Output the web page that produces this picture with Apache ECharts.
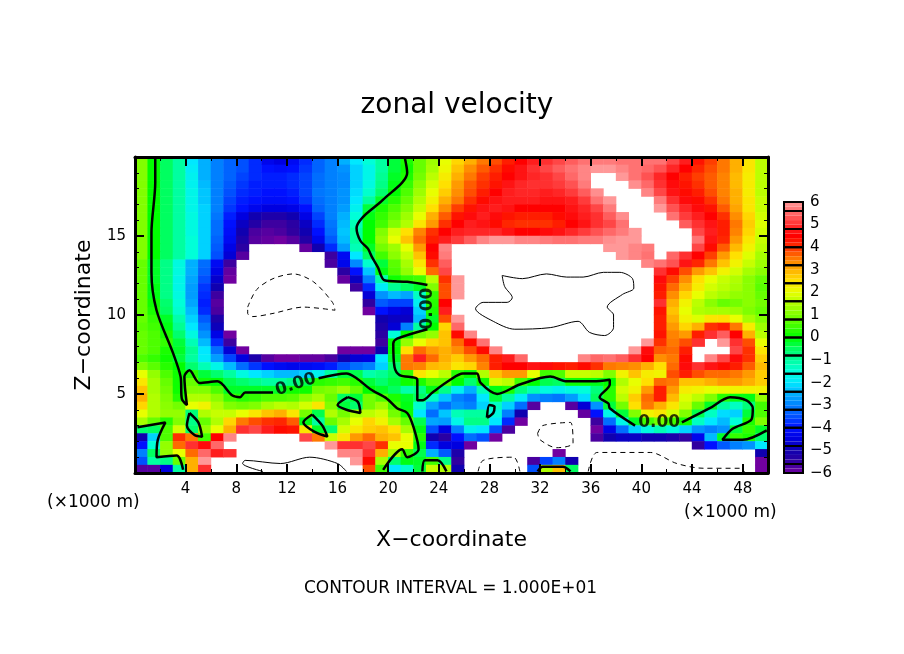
<!DOCTYPE html>
<html>
<head>
<meta charset="utf-8">
<style>html,body{margin:0;background:#fff}#chart{width:904px;height:654px}</style>
<script src="https://cdn.jsdelivr.net/npm/echarts@6/dist/echarts.min.js"></script>
</head>
<body>
<div id="chart"></div>
<script>
// zonal velocity, one row per 0.5 km from the top, one column per 1 km
// 7 and -7 are the white parts beyond the colour scale
var uRows = [
[1,0,-.5,-1,-2,-2.5,-3,-3.3,-3.5,-3.8, -4.3,-4.5,-4.2,-3.8,-3.3,-3,-2.5,-2,-1.5,-1, -.3,.2,.8,1.3,2,2.6,3,3.5,3.8,4.2, 4.5,4.8,5,5.2,5.4,5.6,5.7,5.7,5.6,5.6, 5.6,5.6,5.2,4.8,4.3,3.9,3.5,3,2.4,1.6],
[1,0,-.5,-1,-1.9,-2.5,-3,-3.3,-3.5,-3.8, -4,-4.1,-4,-3.7,-3.3,-3,-2.8,-2.2,-1.7,-1, -.3,.1,.8,1.4,2.1,2.8,3.3,3.7,4,4.4, 4.7,5,5.2,5.4,5.6,5.8,6,6,5.8,5.6, 5.5,5.3,4.9,4.5,4.1,3.8,3.5,3,2.4,1.6],
[1,0,-.5,-1,-1.8,-2.5,-3,-3.3,-3.6,-3.8, -3.9,-3.9,-3.8,-3.6,-3.2,-3,-2.9,-2.2,-1.7,-.9, -.2,.2,.9,1.6,2.3,3,3.5,3.9,4.2,4.5, 4.7,4.9,5,5.2,5.5,5.8,7,7,6,5.6, 5.3,4.9,4.5,4.2,3.9,3.7,3.4,2.9,2.3,1.6],
[1,0,-.5,-1,-1.8,-2.4,-3,-3.4,-3.7,-3.9, -3.9,-3.9,-3.8,-3.6,-3.2,-3,-2.9,-2.2,-1.6,-.8, -.1,.4,1.1,1.8,2.5,3.2,3.7,4,4.3,4.7, 4.9,5,5,5.1,5.3,5.7,7,7,7,5.9, 5.5,5,4.6,4.3,4,3.7,3.4,2.9,2.3,1.6],
[1,0,-.5,-1,-1.7,-2.3,-3,-3.5,-3.8,-3.9, -4,-4,-3.9,-3.6,-3.1,-3,-2.8,-2.1,-1.4,-.6, 0,.6,1.3,2,2.7,3.3,3.8,4.2,4.5,4.8, 4.9,4.9,4.8,4.9,5.1,5.4,5.9,7,7,7, 5.8,5.2,4.7,4.4,4.2,3.8,3.4,3,2.3,1.6],
[1,0,-.5,-1,-1.7,-2.3,-3,-3.6,-3.9,-4, -4.1,-4.1,-4,-3.7,-3.2,-3,-2.8,-2,-1,-.2, .3,.8,1.5,2.2,3,3.5,4,4.4,4.7,4.8, 4.8,4.8,4.7,4.7,4.8,5.1,5.6,6,7,7, 7,5.7,5,4.6,4.4,4,3.5,3,2.4,1.7],
[1,0,-.5,-1,-1.7,-2.2,-3,-3.7,-4,-4.3, -4.5,-4.5,-4.4,-4,-3.3,-3,-2.7,-1.8,-.3,.2, .6,1,1.7,2.5,3.3,3.9,4.3,4.7,4.8,4.7, 4.5,4.5,4.5,4.5,4.7,4.9,5.2,5.7,7,7, 7,6,5.3,4.9,4.6,4.3,3.7,3.1,2.4,1.7],
[1,0,-.5,-1,-1.6,-2.2,-3.1,-3.9,-4.5,-5, -5.2,-5.2,-5,-4.4,-3.6,-3,-2.5,-1.5,-.1,.4, .8,1.3,2,3,3.7,4.3,4.6,4.8,4.6,4.3, 4.2,4.2,4.2,4.4,4.6,4.8,5,5.4,5.9,7, 7,7,5.6,5.1,4.8,4.5,4,3.3,2.6,1.8],
[1,0,-.5,-1,-1.6,-2.2,-3.2,-4,-4.8,-5.3, -5.6,-5.6,-5.4,-4.8,-3.8,-3.1,-2.4,-1.2,0,.5, 1,1.5,2.4,3.2,4,4.5,4.8,4.7,4.4,4.1, 4,4,4,4.2,4.5,4.7,5,5.2,5.6,7, 7,7,7,5.4,5,4.7,4.2,3.5,2.7,1.9],
[1,0,-.5,-1,-1.6,-2.2,-3.2,-4.1,-5,-5.7, -5.8,-5.7,-5.5,-5,-4,-3.2,-2.3,-1,0,1, 1.8,2.5,3.4,4,4.5,4.8,4.9,4.9,4.9,4.7, 4.5,4.5,4.6,4.7,4.9,5.1,5.3,5.5,5.7,6, 7,7,7,7,5.2,4.8,4.2,3.4,2.6,1.8],
[1,0,-.5,-1,-1.5,-2.2,-3.3,-4.2,-5.2,-5.8, -5.9,-6,-5.8,-5.3,-4.3,-3.4,-2.4,-1,0,1.2, 2,2.8,3.6,4.2,4.8,5.1,5.4,5.8,6,6, 5.8,5.8,5.7,5.6,5.6,5.7,5.7,5.9,6,6, 7,7,7,7,5.6,4.7,4.1,3.2,2.4,1.7],
[1,0,-.5,-1,-1.5,-2.2,-3.4,-4.4,-5.4,-7, -7,-7,-7,-5.9,-5,-3.8,-2.7,-1.2,-.2,.9, 1.3,2,3.2,4.5,5.8,7,7,7,7,7, 7,7,7,7,7,7,7,6,6,5.8, 5.7,7,7,7,5.2,4.4,3.7,2.9,2.2,1.6],
[1,0,-.5,-1,-1.5,-2.2,-3.5,-4.6,-5.8,-7, -7,-7,-7,-7,-7,-5.6,-4.2,-2,-.5,.5, 1.1,1.7,2.8,4.4,5.7,7,7,7,7,7, 7,7,7,7,7,7,7,7,6,5.8, 5.6,7,5.5,5,4.5,3.9,3.2,2.5,1.9,1.4],
[.8,-.2,-.8,-1.6,-2.5,-3.2,-4.2,-5.6,-7,-7, -7,-7,-7,-7,-7,-5.7,-4.3,-2.9,-1.4,-.3, .7,1.4,2.4,4,5.4,7,7,7,7,7, 7,7,7,7,7,7,7,7,7,7, 5.8,5.6,5.3,4.7,4.1,3.5,2.8,2.2,1.7,1.3],
[.8,-.2,-.8,-1.6,-2.5,-3.3,-4.4,-5.9,-7,-7, -7,-7,-7,-7,-7,-7,-5.4,-4,-2.3,-.1, .6,1.2,2,3.6,5.2,7,7,7,7,7, 7,7,7,7,7,7,7,7,7,7, 7,5,4.4,3.8,3.2,2.8,2.2,1.8,1.4,1.1],
[.8,-.2,-.8,-1.7,-2.6,-3.5,-4.7,-6,-7,-7, -7,-7,-7,-7,-7,-7,-5.9,-4.8,-3,-1.1, .1,.4,.5,1.6,4,6,7,7,7,7, 7,7,7,7,7,7,7,7,7,7, 7,4.6,3.9,3.3,2.5,2,1.7,1.5,1.1,.8],
[.8,-.1,-.8,-1.7,-2.7,-3.7,-5,-7,-7,-7, -7,-7,-7,-7,-7,-7,-7,-5.6,-3.8,-1.9, -.9,-.5,-.2,1,3.8,6,7,7,7,7, 7,7,7,7,7,7,7,7,7,7, 7,4.3,3.6,3,2.3,1.8,1.6,1.4,1.1,.7],
[.8,-.1,-.8,-1.6,-2.7,-3.8,-5.6,-7,-7,-7, -7,-7,-7,-7,-7,-7,-7,-7,-4.6,-2.8, -2.4,-2.6,-1.3,.4,3.8,6,7,7,7,7, 7,7,7,7,7,7,7,7,7,7, 7,4.2,3.3,2.6,2,1.6,1.4,1.2,1.1,.8],
[.8,.1,-.6,-1.5,-2.6,-3.9,-5.8,-7,-7,-7, -7,-7,-7,-7,-7,-7,-7,-7,-5.5,-3.4, -3.6,-3.6,-1.8,.3,4.5,7,7,7,7,7, 7,7,7,7,7,7,7,7,7,7, 7,5,3,2.2,1.6,1.1,.8,.9,1.1,.9],
[.8,.2,-.5,-1.4,-2.4,-3.8,-5.7,-7,-7,-7, -7,-7,-7,-7,-7,-7,-7,-7,-6,-4, -4.4,-4.6,-2.2,.2,4.8,7,7,7,7,7, 7,7,7,7,7,7,7,7,7,7, 7,4.3,2.8,2,1.5,1.4,1.4,1.3,1,.8],
[.8,.4,-.2,-1.1,-2.2,-3.4,-5.2,-7,-7,-7, -7,-7,-7,-7,-7,-7,-7,-7,-7,-5, -4.8,-4.8,-2.4,-.2,3.8,6,7,7,7,7, 7,7,7,7,7,7,7,7,7,7, 7,4.2,3,2.2,1.9,2.4,2.5,2,1.4,1],
[.7,.5,-.1,-.9,-2,-3.1,-4.9,-7,-7,-7, -7,-7,-7,-7,-7,-7,-7,-7,-7,-5.2, -4.6,-3,-1,0,2.6,5.5,7,7,7,7, 7,7,7,7,7,7,7,7,7,7, 7,4.2,3.2,2.6,3,4,4.2,3.5,2.3,1.3],
[.8,.6,.2,-.6,-1.6,-2.8,-4.4,-6,-7,-7, -7,-7,-7,-7,-7,-7,-7,-7,-7,-5.4, -1.5,0,.9,1.2,2.8,4.4,5.8,7,7,7, 7,7,7,7,7,7,7,7,7,7, 7,4.3,3.4,3.2,4.2,5,5.4,4.5,3,1.6],
[.8,.6,.4,-.3,-1.2,-2.4,-3.8,-5.6,-7,-7, -7,-7,-7,-7,-7,-7,-7,-7,-7,-5.6, 0,1.2,2,2.6,2.8,3.6,4.4,5.6,7,7, 7,7,7,7,7,7,7,7,7,7, 6,4,3.5,3.8,5,7,6,5,3.8,2],
[.8,.6,.2,-.2,-.9,-2,-3.2,-4.6,-6,-7, -7,-7,-7,-7,-7,-7,-6,-6,-6,-5, 0,2.5,3.6,3.2,3,3.3,3.8,4.4,5.8,7, 7,7,7,7,7,7,7,7,7,6, 4.6,3.7,3.6,4.2,7,7,7,5.2,4,2.4],
[.6,.4,.1,-.3,-1,-1.9,-2.7,-3.6,-4.5,-5.2, -5.8,-6,-6,-5.9,-5.9,-5.7,-5,-4.6,-4.5,-2, -.2,3.5,4.8,3.6,3,2.7,3.2,3.6,4.2,4.8, 5.5,7,7,7,7,5.8,5.5,5.6,5.4,5, 4.5,3.3,3.5,4.4,7,5.8,5.2,4.6,4,2.7],
[1,.7,.3,0,-.6,-1.2,-1.7,-2.4,-3.2,-3.7, -4,-4.2,-4.3,-4.2,-4.1,-3.9,-3.5,-3.2,-3,-2.2, -.6,3.5,3.4,2.9,2.8,2.4,2.6,3.4,4.2,4.5, 4.5,4.7,4.6,4.3,4.2,4.4,4,3.5,3.4,3.3, 3,2.5,3.6,4.6,5,4.7,4.4,4.2,3.7,2.9],
[2,1.2,.6,.1,.3,-.3,-.6,-1,-1.6,-2, -2.2,-2.4,-2.4,-2.2,-1.8,-1,-.3,-.4,-1.1,-.9, -.5,.4,2.4,2,1.6,.3,0,1.5,2.8,3.2, 3.2,2,.5,.6,1.7,1.7,1.6,1,2.2,2.8, 2.3,2.2,3.8,4.2,3.8,3.6,3.6,3.5,3.2,2.7],
[2.4,1.4,.8,.1,.8,.1,0,-.4,-.6,-.8, -1,-1,-.8,-.4,.3,.4,.5,.3,-.3,-.6, -.3,.1,.2,.7,.7,0,-.6,.1,1.8,1.6, .5,0,-.4,-.5,.1,.1,-.1,0,1.5,2, 2.5,3.6,3.5,2.8,2.8,3,3.2,3.2,3,2.7],
[2.8,1.4,.9,.1,1,1,.6,-.2,-.2,-.2, -.2,-.2,.1,.1,.9,1,1.3,.8,0,-.2, -.5,-1.1,-.8,-.1,-.8,-1.8,-2.5,-1.2,-.1,.2, -.7,-1.2,-1.6,-1.8,-1.6,-1.5,-.7,.3,1.8,2.2, 3.2,4.2,3.2,2.3,2.2,2,2.1,2.2,2.2,2.2],
[3,1.5,1,.3,1.5,1.5,1.1,.5,.3,.4, .6,.6,.7,1.1,1.4,.8,-.5,-.3,.9,.6, .2,-.2,-.5,-1.3,-2.3,-3,-3.2,-2,-.3,-1, -1.9,-2.8,-3,-3.1,-2.7,-2.1,-.5,.3,1.6,2.7, 3.6,4.2,2.9,1.9,1.6,1,.3,-.1,-.1,1.2],
[2.6,1.5,1.1,.9,2,2.2,1.5,1,.9,1, 1.4,1.6,1.5,1.8,2.4,1,-.3,-.6,.9,1.3, .5,-.1,-1.4,-2.6,-3.2,-2.8,-3,-2.2,-1.3,-2.2, -3.2,-5.8,-7,-7,-5.8,-4.6,-2.8,-.3,.9,2.5, 3.5,3,2.4,1.7,.8,-.2,-1,-1.3,-.7,.5],
[2,1.5,1.2,1.2,-.7,1.5,1.7,1.7,2,2.4, 2.8,3,2.4,.9,-.4,1.5,.9,1.5,1.6,1.8, .9,.1,-2,-3.2,-2.3,-1.2,-1,-1,-1.6,-3, -5,-7,-7,-7,-7,-5.9,-4,-1.7,-.3,1, 2.2,2.4,1.8,1,-.4,-1.3,-2.1,-2.2,-.3,.6],
[1.4,.8,.3,1,-.8,.8,1.5,2.6,3.5,3.8, 4,4.1,3.7,-.1,-1,.8,1.4,2,2.6,2.2, 1.4,.8,-.4,-2.6,-2.7,-1.7,-.8,-.8,-2,-3.8, -6,-7,-7,-7,-7,-7,-5.6,-3.2,-1.7,-.2, .5,.9,.5,.1,-1.3,-2,-2.4,-1.5,.2,1],
[-.6,-.5,.6,1.8,-.6,1.2,2,3,5,5.2, 4.8,4.4,4.3,2.4,-.2,-.6,1.8,2.4,2.7,2.8, 2.5,1.4,-.1,-3.5,-4.5,-3,-1.8,-2,-3.5,-5.7, -7,-7,-7,-7,-7,-7,-6,-4.4,-3.2,-2.2, -1.6,-1.2,-1.6,-2.2,-2.8,-3,-2.8,-.3,.4,-.2],
[-5,-2.2,.6,4,3.5,.5,4.5,5.8,7,7, 7,7,7,5.2,3.5,1.7,2.4,3.2,3.6,3, 2.8,2,.3,-5,-5.4,-4,-3.2,-3.5,-6,-7, -7,-7,-7,-7,-7,-7,-5.7,-5,-4.8,-4.8, -5,-5,-5.2,-5.5,-4.3,-2.4,-.2,.4,.2,-.6],
[-4,-1.5,1.2,3.6,5,4.6,5.5,7,7,7, 7,7,7,7,7,6,5,5,5.2,4, 2,2,-.1,-3.8,-4.5,-4.5,-6,-7,-7,-7, -7,-7,-7,-7,-7,-7,-7,-7,-7,-7, -7,-7,-7,-7,-5.5,-4,-3.4,-3,-2.8,-2],
[-3,-.5,1.2,2,3.6,5.5,4.8,5,7,7, 7,7,7,7,7,7,5.8,5.8,5,3, 1.4,.4,-.4,-2.5,-3.4,-5.2,-7,-7,-7,-7, -7,-7,-7,-6,-7,-7,-7,-7,-7,-7, -7,-7,-7,-7,-7,-7,-7,-7,-7,-5],
[-3.5,-1,-.8,.8,3,6,7,7,7,7, 7,7,7,7,7,7,7,6,4.4,1.4, -.6,-.1,-.2,.5,-.8,-5.5,-7,-7,-7,-7, -7,-5.7,-3.6,-3,-5,-7,-7,-7,-7,-7, -7,-7,-7,-7,-7,-7,-7,-7,-7,-6],
[-5.8,-5.8,-4.5,-1,3,5,7,7,7,7, 7,7,7,7,7,7,7,7,3.8,.5, -2,-1.4,-.3,1.7,1.5,-5,-7,-7,-7,-7, -7,-3.5,1.5,2.8,-.5,-7,-7,-7,-7,-7, -7,-7,-7,-7,-7,-7,-7,-7,-7,-6]
];

// colour at -6, -5.5, ... 6
var levelColors = ['#7000a0','#3000a0','#1000b0','#0000e0','#0010ff','#0050ff','#0080ff','#00b0ff','#00e8ff',
    '#00ffd8','#00ffa0','#00ff60','#00ff00','#40ff00','#80ff00','#b0ff00','#e8ff00','#ffe000','#ffb000',
    '#ff7800','#ff3000','#ff0000','#ff3030','#ff6868','#ff9898'];

// colour bar
var barBoxes = [6,5.6,4.8,4,3.2,2.4,1.6,.8,0,-.8,-1.6,-2.4,-3.2,-4,-4.8,-5.6,-6];
var barShades = [6,5.8,5.6,5.4,5.2,5,4.8,4.6,4.4,4.2,4,3.8,3.6,3.4,3.2,3,2.8,2.6,2.4,2.2,2,1.8,1.6,1.4,1.2,1,.8,.6,.4,.2,0,
    -.2,-.4,-.6,-.8,-1,-1.2,-1.4,-1.6,-1.8,-2,-2.2,-2.4,-2.6,-2.8,-3,-3.2,-3.4,-3.6,-3.8,-4,-4.2,-4.4,-4.6,-4.8,-5,-5.2,-5.4,-5.6,-5.8,-6];

// tick labels
var xTicks = [4,8,12,16,20,24,28,32,36,40,44,48];
var zTicks = [5,10,15];

// contours in km, zero level (thick)
var zeroLines = [
    [[1.6,20],[1.6,18.4],[1.3,15.2],[1.3,12.7],[1.7,10.3],[3,7.6],[3.6,6.1],[3.7,4.7],[4.1,4.3],[3.9,6.1],[4.3,6.5],[5.1,5.7],[6.5,5.8],[7.7,4.9],[8.3,4.8],[8.7,5.1],[10.9,5.1]],
    [[14.5,6],[16.7,6.3],[17.5,6],[18.6,5.3],[19.9,4.7],[20.7,4.1],[21.5,3.8],[22,2.9],[22.4,1.5],[21.5,1],[21.1,1.5],[19.6,.2]],
    [[21.3,20],[21.5,19],[19.6,17.3],[18,16.2],[17.5,15.5],[17.8,14.7],[18.4,14.2],[18.7,13.7],[19.2,13],[19.7,12.2],[21.5,12.1],[23.1,11.9]],
    [[23.1,9.1],[20.7,8.5],[20.4,8.2],[20.5,6.7],[20.9,6.2],[22.3,5.9],[22.3,4.6],[22.7,4.6],[23.5,5.1],[24.9,5.9],[25.9,6.3],[27,6.3],[27.3,5.7],[28.6,5],[30.4,5.6],[32.8,6.1],[34.1,5.8],[36.2,5.8],[37.5,5.9],[37.5,5.6],[36.7,4.8],[37.4,4.4],[37.5,4.1],[39.5,3]],
    [[43.2,3.2],[45.4,4.1],[47,4.8],[48.3,4.6],[48.8,4.1],[48.7,3.4],[47.2,2.8],[46.4,2.1],[48,2.1],[49.9,2.7]],
    [[4.3,3.8],[5,3.2],[5.3,2.3],[4.7,2.4],[4.1,3],[4.3,3.8]],
    [[14,3.7],[14.8,3],[15.2,2.3],[14.2,2.6],[13.3,3.2],[14,3.7]],
    [[16.8,4.8],[17.6,4.5],[17.8,3.8],[16.7,4],[16,4.3],[16.8,4.8]],
    [[.2,2.9],[2.4,3.2],[1.8,2.1],[1.7,1],[3.3,1.1],[3.8,.2]],
    [[22.7,.1],[22.9,.8],[23.9,.8],[24.6,.1]],
    [[27.8,3.5],[28,4.3],[28.4,4.2],[28.3,3.8],[27.8,3.5]],
    [[31.8,.1],[32.2,.4],[33.8,.4],[34.4,.1]]
];
// thin solid, +10 level
var plusLines = [
    [[29,12.5],[29.2,11.8],[29.8,11.1],[29.4,10.8],[27.5,10.8],[26.9,10.4],[28.3,9.6],[30,9.1],[32.8,9.2],[35,9.6],[35.9,8.9],[37.1,8.7],[37.8,9.2],[37.8,10],[37.3,10.5],[38.5,11.3],[39.4,11.7],[39.3,12.3],[38.3,12.7],[37,12.7],[35.4,12.4],[34.1,12.4],[32.5,12.6],[30.6,12.3],[29,12.5]],
    [[10.1,.1],[8.5,.6],[8.7,.8],[11.5,.6],[13.8,1],[16,.6],[16.7,.1]]
];
// thin dashed, -10 level
var minusLines = [
    [[8.9,10.5],[9.6,11.6],[10.9,12.3],[12.5,12.6],[14.1,12.1],[15.6,10.8],[15.8,10.3],[13.3,10.5],[10.9,10.1],[9.3,9.9],[8.9,10.1],[8.9,10.5]],
    [[31.8,2.5],[32.2,3],[34.4,3.2],[34.6,1.9],[33.3,1.6],[32,2.1],[31.8,2.5]],
    [[27.1,.1],[27.5,.8],[29.9,1],[30.4,.1]],
    [[35.8,.1],[36.5,1.3],[40.7,1.3],[42.8,.6],[44.9,.3],[47.8,.3],[48.2,0]]
];
// contour labels: x, z, text, rotation
var contourLabels = [[12.7,5.6,'0.00',18],[23.1,10.4,'0.00',90],[41.4,3.2,'0.00',0]];

var FONT = 'DejaVu Sans';
var myChart = echarts.init(document.getElementById('chart'));

// cells beyond the scale stay unpainted, so the page white shows through
var heatData = [];
uRows.forEach(function (row, r) {
    row.forEach(function (v, c) {
        if (Math.abs(v) <= 6) heatData.push([c, r, v]);
    });
});

var shadeData = [];
for (var i = 0; i < barShades.length - 1; i++) {
    shadeData.push([barShades[i + 1], barShades[i], (barShades[i] + barShades[i + 1]) / 2]);
}
var boxData = [];
for (var j = 0; j < barBoxes.length - 1; j++) {
    boxData.push([barBoxes[j + 1], barBoxes[j], 0]);
}

function barRect(api) {
    var a = api.coord([0, api.value(0)]);
    var b = api.coord([1, api.value(1)]);
    return { x: a[0], y: b[1], width: b[0] - a[0], height: a[1] - b[1] };
}

function lineSeries(points, width, dashed) {
    return {
        type: 'line', xAxisIndex: 1, yAxisIndex: 1, data: points, symbol: 'none', smooth: 0.3,
        silent: true, z: 5,
        lineStyle: { color: '#000', width: width, type: dashed ? [5, 4] : 'solid' }
    };
}

var series = [
    {
        type: 'heatmap', xAxisIndex: 0, yAxisIndex: 0, data: heatData, silent: true, progressive: 0,
        emphasis: { disabled: true }, z: 2
    },
    {
        type: 'custom', xAxisIndex: 3, yAxisIndex: 3, data: shadeData, silent: true, z: 2,
        renderItem: function (params, api) {
            return { type: 'rect', shape: barRect(api), style: { fill: api.visual('color') } };
        }
    },
    {
        type: 'custom', xAxisIndex: 3, yAxisIndex: 3, data: boxData, silent: true, z: 3,
        renderItem: function (params, api) {
            return { type: 'rect', shape: barRect(api), style: { fill: 'none', stroke: '#000', lineWidth: 2 } };
        }
    },
    {
        type: 'scatter', xAxisIndex: 1, yAxisIndex: 1, symbolSize: 0, silent: true, z: 6,
        data: contourLabels.map(function (d) {
            return {
                value: [d[0], d[1]],
                label: {
                    show: true, position: 'inside', formatter: d[2], rotate: d[3],
                    color: '#000', fontFamily: FONT, fontSize: 17, fontWeight: 'bold'
                }
            };
        })
    }
];
zeroLines.forEach(function (p) { series.push(lineSeries(p, 2.5, false)); });
plusLines.forEach(function (p) { series.push(lineSeries(p, 1, false)); });
minusLines.forEach(function (p) { series.push(lineSeries(p, 1, true)); });

var tickLabel = { color: '#000', fontFamily: FONT, fontSize: 15 };
var frameLine = { show: true, onZero: false, lineStyle: { color: '#000', width: 3 } };

var option = {
    animation: false,
    backgroundColor: '#fff',
    title: {
        text: 'zonal velocity', left: 452, top: 87, textAlign: 'center',
        textStyle: { color: '#000', fontFamily: FONT, fontWeight: 'normal', fontSize: 28 }
    },
    grid: [
        { left: 135, top: 157, width: 633, height: 316 },
        { left: 135, top: 157, width: 633, height: 316 },
        { left: 135, top: 157, width: 633, height: 316 },
        { left: 784, top: 202, width: 19, height: 271 }
    ],
    visualMap: {
        show: false, type: 'continuous', min: -6, max: 6, dimension: 2, seriesIndex: [0, 1],
        inRange: { color: levelColors }
    },
    xAxis: [
        { type: 'category', gridIndex: 0, show: false, data: uRows[0].map(function (v, c) { return c; }) },
        {
            type: 'value', gridIndex: 1, min: 0, max: 50, interval: 4, position: 'bottom', z: 10,
            name: 'X\u2212coordinate', nameLocation: 'middle', nameGap: 56,
            nameTextStyle: { color: '#000', fontFamily: FONT, fontSize: 22 },
            splitLine: { show: false }, axisLine: frameLine,
            axisTick: { inside: true, length: 9, lineStyle: { color: '#000', width: 2 } },
            minorTick: { show: true, splitNumber: 2, length: 4, lineStyle: { color: '#000', width: 1 } },
            axisLabel: Object.assign({ margin: 9, formatter: function (v) { return xTicks.indexOf(v) >= 0 ? v : ''; } }, tickLabel)
        },
        {
            type: 'value', gridIndex: 2, min: 0, max: 50, interval: 4, position: 'top', z: 10,
            splitLine: { show: false }, axisLine: frameLine, axisLabel: { show: false },
            axisTick: { inside: true, length: 9, lineStyle: { color: '#000', width: 2 } },
            minorTick: { show: true, splitNumber: 2, length: 4, lineStyle: { color: '#000', width: 1 } }
        },
        { type: 'value', gridIndex: 3, min: 0, max: 1, show: false }
    ],
    yAxis: [
        { type: 'category', gridIndex: 0, show: false, inverse: true, data: uRows.map(function (v, r) { return r; }) },
        {
            type: 'value', gridIndex: 1, min: 0, max: 20, interval: 5, position: 'left', z: 10,
            name: 'Z\u2212coordinate', nameLocation: 'middle', nameGap: 40, nameRotate: 90,
            nameTextStyle: { color: '#000', fontFamily: FONT, fontSize: 22 },
            splitLine: { show: false }, axisLine: frameLine,
            axisTick: { inside: true, length: 9, lineStyle: { color: '#000', width: 2 } },
            minorTick: { show: true, splitNumber: 5, length: 4, lineStyle: { color: '#000', width: 1 } },
            axisLabel: Object.assign({ margin: 9, formatter: function (v) { return zTicks.indexOf(v) >= 0 ? v : ''; } }, tickLabel)
        },
        {
            type: 'value', gridIndex: 2, min: 0, max: 20, interval: 5, position: 'right', z: 10,
            splitLine: { show: false }, axisLine: frameLine, axisLabel: { show: false },
            axisTick: { inside: true, length: 9, lineStyle: { color: '#000', width: 2 } },
            minorTick: { show: true, splitNumber: 5, length: 4, lineStyle: { color: '#000', width: 1 } }
        },
        {
            type: 'value', gridIndex: 3, min: -6, max: 6, interval: 1, position: 'right',
            splitLine: { show: false }, axisLine: { show: false }, axisTick: { show: false },
            axisLabel: Object.assign({ margin: 7, formatter: function (v) { return String(v).replace('-', '\u2212'); } }, tickLabel)
        }
    ],
    graphic: [
        { type: 'text', left: 47, top: 494, style: { text: '(\u00d71000 m)', fill: '#000', font: '17px "DejaVu Sans"' } },
        { type: 'text', left: 684, top: 504, style: { text: '(\u00d71000 m)', fill: '#000', font: '17px "DejaVu Sans"' } },
        { type: 'text', left: 304, top: 580, style: { text: 'CONTOUR INTERVAL = 1.000E+01', fill: '#000', font: '17px "DejaVu Sans"' } }
    ],
    series: series
};
myChart.setOption(option);
</script>
</body>
</html>
